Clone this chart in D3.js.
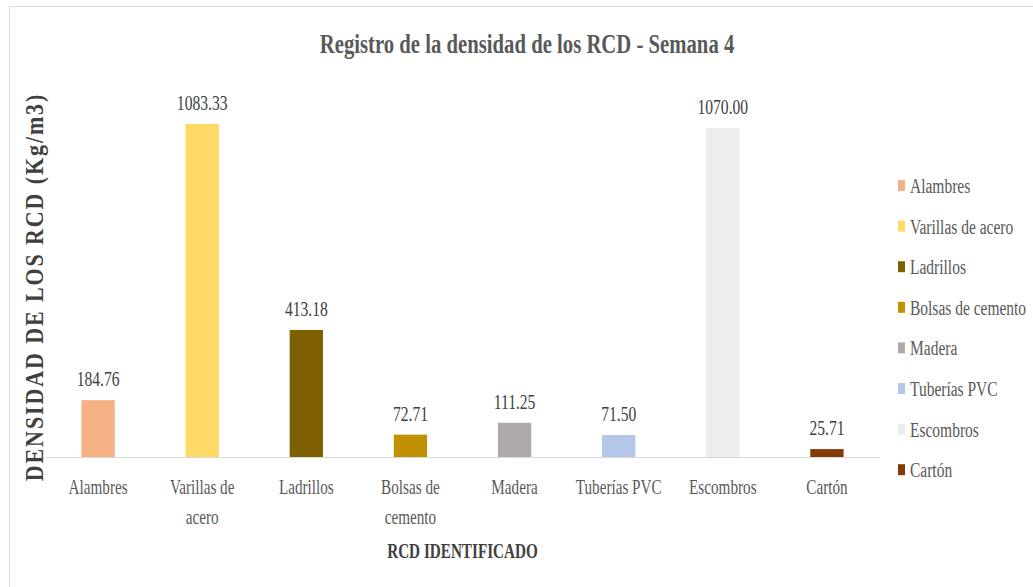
<!DOCTYPE html>
<html>
<head>
<meta charset="utf-8">
<script src="https://cdn.jsdelivr.net/npm/d3@7"></script>
<style>
  body { margin: 0; background: #fff; }
  svg { display: block; }
</style>
</head>
<body>
<svg id="chart"></svg>
<script>
// chart values
const categories = ["Alambres", "Varillas de acero", "Ladrillos", "Bolsas de cemento", "Madera", "Tuberías PVC", "Escombros", "Cartón"];
const tickLabels = [["Alambres"], ["Varillas de", "acero"], ["Ladrillos"], ["Bolsas de", "cemento"], ["Madera"], ["Tuberías PVC"], ["Escombros"], ["Cartón"]];
const densities = [184.76, 1083.33, 413.18, 72.71, 111.25, 71.50, 1070.00, 25.71];
const colors = ["#F4B183", "#FFD966", "#7F6000", "#BF9000", "#AEAAAA", "#B4C7E7", "#EDEDED", "#843C0C"];

const FONT = "'Liberation Serif', 'DejaVu Serif', serif";
const W = 1033, H = 587;
const margin = { top: 88, left: 46, right: 154, bottom: 130 };
const plotW = W - margin.left - margin.right;
const baseY = H - margin.bottom;

const svg = d3.select("#chart").attr("width", W).attr("height", H);

// light frame of the chart area
svg.append("rect")
  .attr("x", 9.5).attr("y", 6.5)
  .attr("width", 1100).attr("height", 700)
  .attr("fill", "none")
  .attr("stroke", "#d9d9d9");

const xScale = d3.scaleBand()
  .domain(categories)
  .range([margin.left, margin.left + plotW])
  .paddingInner(0.68)
  .paddingOuter(0.34);

const yScale = d3.scaleLinear()
  .domain([0, 1200])
  .range([baseY, margin.top]);

// text is drawn narrow, like the source picture
function narrowText(sel, x, y, size, k, anchor, weight, fill) {
  return sel.append("text")
    .attr("transform", `translate(${x},${y}) scale(${k},1)`)
    .attr("text-anchor", anchor)
    .attr("font-family", FONT)
    .attr("font-size", size)
    .attr("font-weight", weight)
    .attr("fill", fill);
}

narrowText(svg, 527, 53, 28, 0.74, "middle", "bold", "#595959")
  .text("Registro de la densidad de los RCD - Semana 4");

// bars
svg.append("g")
  .selectAll("rect")
  .data(densities)
  .enter()
  .append("rect")
  .attr("x", (d, i) => xScale(categories[i]))
  .attr("y", d => yScale(d))
  .attr("width", xScale.bandwidth())
  .attr("height", d => baseY - yScale(d))
  .attr("fill", (d, i) => colors[i]);

// value labels
densities.forEach((d, i) => {
  narrowText(svg, xScale(categories[i]) + xScale.bandwidth() / 2, yScale(d) - 14, 20, 0.78, "middle", "normal", "#404040")
    .text(d.toFixed(2));
});

// x axis line
svg.append("line")
  .attr("x1", margin.left).attr("x2", margin.left + plotW)
  .attr("y1", baseY + 0.5).attr("y2", baseY + 0.5)
  .attr("stroke", "#d9d9d9");

// category labels
tickLabels.forEach((lines, i) => {
  const cx = xScale(categories[i]) + xScale.bandwidth() / 2;
  lines.forEach((ln, j) => {
    narrowText(svg, cx, baseY + 37 + j * 30, 20, 0.76, "middle", "normal", "#595959").text(ln);
  });
});

// axis titles
narrowText(svg, margin.left + plotW / 2, 558, 20, 0.76, "middle", "bold", "#404040")
  .text("RCD IDENTIFICADO");

svg.append("text")
  .attr("transform", `translate(43,287) rotate(-90) scale(1,1.12)`)
  .attr("text-anchor", "middle")
  .attr("font-family", FONT)
  .attr("font-size", 22)
  .attr("font-weight", "bold")
  .attr("letter-spacing", 1.9)
  .attr("fill", "#404040")
  .text("DENSIDAD DE LOS RCD (Kg/m3)");

// legend
const legend = svg.append("g");
categories.forEach((c, i) => {
  const ly = 186 + i * 40.6;
  legend.append("rect")
    .attr("x", 898).attr("y", ly - 6)
    .attr("width", 7).attr("height", 11)
    .attr("fill", colors[i]);
  narrowText(legend, 910, ly + 7, 20, 0.775, "start", "normal", "#595959").text(c);
});
</script>
</body>
</html>
